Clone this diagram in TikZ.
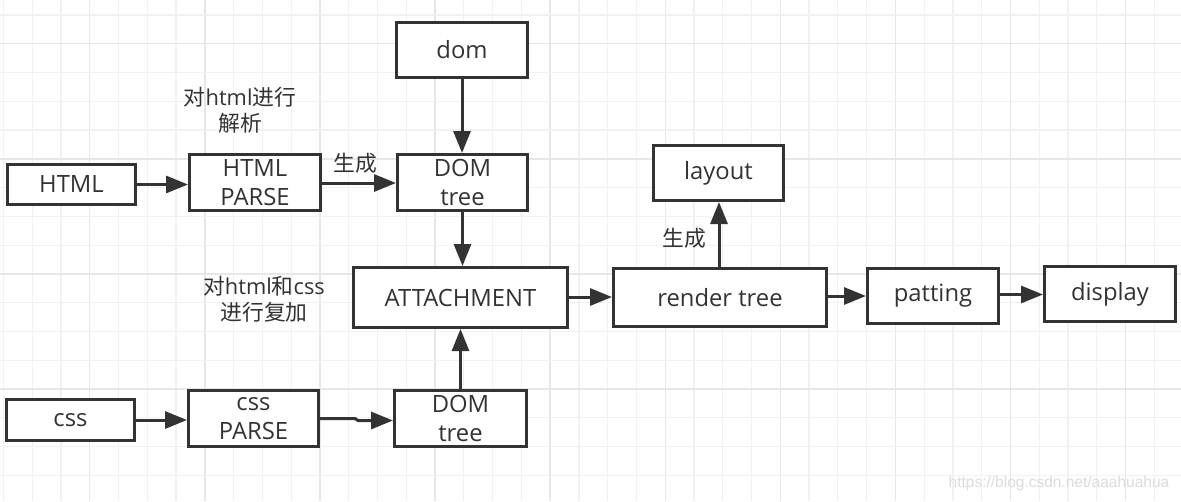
\documentclass[tikz,border=0pt]{standalone}
\usepackage{fontspec}
\setmainfont{Open Sans}
\newfontfamily\cjk{Noto Sans CJK SC}
\newfontfamily\wmfont{Liberation Sans}
\usetikzlibrary{arrows.meta,calc}
\definecolor{ink}{HTML}{333333}
\definecolor{gridminor}{HTML}{F1F1F1}
\definecolor{gridmajor}{HTML}{E7E7E7}
\definecolor{wmark}{HTML}{DCDCDC}
\tikzset{
  box/.style={draw=ink, line width=3pt, fill=white, inner sep=0pt, text=ink,
    font=\fontsize{23.8}{29}\selectfont, align=center},
  arr/.style={draw=ink, line width=3pt, -{Triangle[length=22pt,width=17pt]}},
  lbl/.style={text=ink, inner sep=0pt, align=center, font=\fontsize{21.8}{26}\selectfont},
}
\begin{document}
\begin{tikzpicture}[x=1pt,y=-1pt]
\useasboundingbox (0,0) rectangle (1181,501);
\fill[white] (0,0) rectangle (1181,501);
% grid
\foreach \i in {0,...,40} {
  \pgfmathtruncatemacro{\m}{mod(\i,4)==3 ? 1 : 0}
  \ifnum\m=1 \def\gc{gridmajor}\else \def\gc{gridminor}\fi
  \draw[\gc, line width=1.3pt] ({3.5+28.77*\i},0) -- ({3.5+28.77*\i},501);
}
\foreach \j in {0,...,16} {
  \pgfmathtruncatemacro{\m}{mod(\j,4)==1 ? 1 : 0}
  \ifnum\m=1 \def\gc{gridmajor}\else \def\gc{gridminor}\fi
  \draw[\gc, line width=1.3pt] (0,{15+28.77*\j}) -- (1181,{15+28.77*\j});
}
% nodes
\node[box, minimum width=128pt, minimum height=40pt] (html) at (71.5,184.5) {HTML};
\node[box, minimum width=131pt, minimum height=56pt] (hparse) at (255,182.5) {HTML\\PARSE};
\node[box, minimum width=131pt, minimum height=55pt] (dom) at (462,50) {dom};
\node[box, minimum width=130pt, minimum height=56pt] (dtree1) at (462.5,182.5) {DOM\\tree};
\node[box, minimum width=214pt, minimum height=60pt] (attach) at (460.5,297.5) {ATTACHMENT};
\node[box, minimum width=128pt, minimum height=41pt] (css) at (70.5,420) {css};
\node[box, minimum width=130pt, minimum height=56pt] (cparse) at (253.5,418.5) {css\\PARSE};
\node[box, minimum width=132pt, minimum height=56pt] (dtree2) at (460.5,418.5) {DOM\\tree};
\node[box, minimum width=213pt, minimum height=58pt] (render) at (720,297.5) {render tree};
\node[box, minimum width=130pt, minimum height=55pt] (layout) at (718.5,173) {layout};
\node[box, minimum width=131pt, minimum height=55pt] (patting) at (933,296) {patting};
\node[box, minimum width=131pt, minimum height=55pt] (display) at (1110,294) {display};
% labels
\node[lbl] (l1) at (240,110) {{\cjk 对}html{\cjk 进行}\\{\cjk 解析}};
\node[lbl] (l2) at (355,163) {\cjk 生成};
\node[lbl] (l3) at (264,299) {{\cjk 对}html{\cjk 和}css\\{\cjk 进行复加}};
\node[lbl] (l4) at (684,238) {\cjk 生成};
\node[text=wmark, inner sep=0pt, font=\wmfont\fontsize{15.5}{18}\selectfont] (wm) at (1059,483) {https://blog.csdn.net/aaahuahua};
% connectors
\draw[arr] (html.east) -- (html.east -| hparse.west);
\draw[arr] (hparse.east |- 0,183) -- (dtree1.west |- 0,183);
\draw[arr] (dom.south) -- (dom.south |- dtree1.north);
\draw[arr] (dtree1.south) -- (dtree1.south |- attach.north);
\draw[arr] (css.east) -- (css.east -| cparse.west);
\draw[arr] (cparse.east |- 0,418.5) -- (355,418.5) -- (358,420.5) -- (dtree2.west |- 0,420.5);
\draw[arr] (dtree2.north) -- (dtree2.north |- attach.south);
\draw[arr] (attach.east |- 0,297) -- (render.west |- 0,297);
\draw[arr] (render.east |- 0,296) -- (patting.west |- 0,296);
\draw[arr] (patting.east |- 0,294.5) -- (display.west |- 0,294.5);
\draw[arr] (render.north -| 719,0) -- (layout.south -| 719,0);
\end{tikzpicture}
\end{document}
